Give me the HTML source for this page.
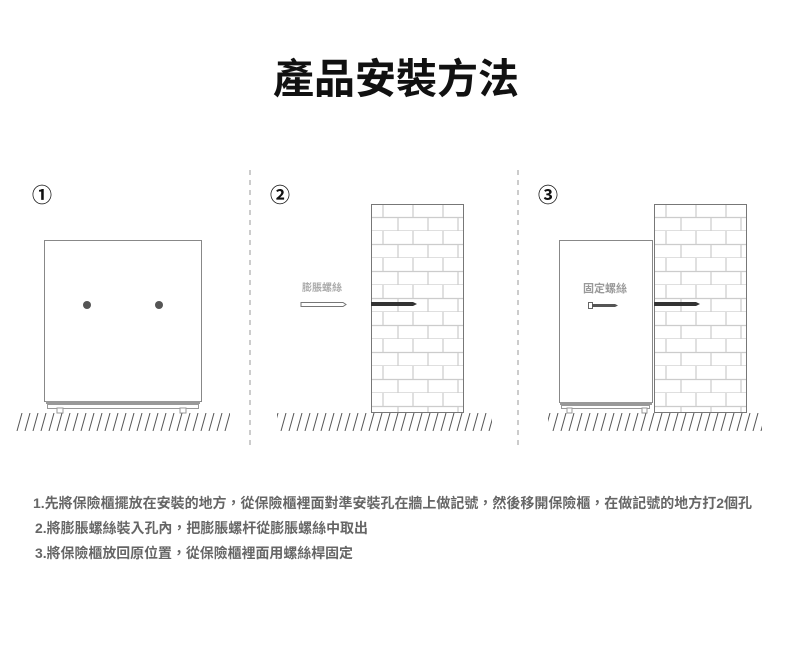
<!DOCTYPE html>
<html><head><meta charset="utf-8"><style>
body{margin:0;background:#fff;}
.t{font-family:"Liberation Sans","Noto Sans CJK TC",sans-serif;}
</style></head><body>
<svg width="790" height="645" viewBox="0 0 790 645" xmlns="http://www.w3.org/2000/svg" class="t">
<defs>
<pattern id="br" x="371" y="204" width="30" height="27" patternUnits="userSpaceOnUse">
<line x1="0" y1="13.5" x2="30" y2="13.5" stroke="#ccc" stroke-width="1.2"/>
<line x1="0" y1="27" x2="30" y2="27" stroke="#ccc" stroke-width="1.2"/>
<line x1="12" y1="0" x2="12" y2="13.5" stroke="#ccc" stroke-width="1.2"/>
<line x1="27" y1="13.5" x2="27" y2="27" stroke="#ccc" stroke-width="1.2"/>
</pattern>
<pattern id="br2" x="654" y="204" width="30" height="27" patternUnits="userSpaceOnUse">
<line x1="0" y1="13.5" x2="30" y2="13.5" stroke="#ccc" stroke-width="1.2"/>
<line x1="0" y1="27" x2="30" y2="27" stroke="#ccc" stroke-width="1.2"/>
<line x1="12" y1="0" x2="12" y2="13.5" stroke="#ccc" stroke-width="1.2"/>
<line x1="27" y1="13.5" x2="27" y2="27" stroke="#ccc" stroke-width="1.2"/>
</pattern>
<pattern id="hatch" x="0" y="413" width="8" height="18" patternUnits="userSpaceOnUse">
<line x1="6" y1="0" x2="1" y2="18" stroke="#555" stroke-width="1"/>
</pattern>
</defs>
<text x="396" y="93" text-anchor="middle" font-size="41" font-weight="bold" fill="#111">產品安裝方法</text>

<line x1="250" y1="170" x2="250" y2="446" stroke="#999" stroke-dasharray="5,5"/>
<line x1="518" y1="170" x2="518" y2="446" stroke="#999" stroke-dasharray="5,5"/>

<g font-size="20" font-weight="bold" fill="#111">
<text x="32" y="202">①</text><text x="270" y="202">②</text><text x="538" y="202">③</text>
</g>

<!-- panel 1 -->
<rect x="44.5" y="240.5" width="157" height="161" fill="#fff" stroke="#888"/>
<rect x="46" y="401" width="154" height="3" fill="#999"/>
<rect x="47.5" y="404.5" width="151" height="4" fill="#fff" stroke="#999"/>
<rect x="57" y="408" width="6" height="5" fill="#fff" stroke="#999"/>
<rect x="180" y="408" width="6" height="5" fill="#fff" stroke="#999"/>
<circle cx="87" cy="305" r="4" fill="#555"/>
<circle cx="159" cy="305" r="4" fill="#555"/>
<rect x="16" y="413" width="214" height="18" fill="url(#hatch)"/>

<!-- panel 2 -->
<rect x="371.5" y="204.5" width="92" height="208" fill="url(#br)" stroke="#777"/>
<text x="322" y="291" text-anchor="middle" font-size="10" font-weight="bold" fill="#aaa">膨脹螺絲</text>
<path d="M301 302.5 H343 L346 304.5 L343 306.5 H301 Z" fill="#fff" stroke="#777"/>
<path d="M371 302 H413 L417 304 L413 306 H371 Z" fill="#333"/>
<rect x="277" y="413" width="215" height="18" fill="url(#hatch)"/>

<!-- panel 3 -->
<rect x="559.5" y="240.5" width="93" height="162" fill="#fff" stroke="#888"/>
<rect x="560" y="402" width="92" height="3" fill="#999"/>
<rect x="561.5" y="405.5" width="88" height="3" fill="#fff" stroke="#999"/>
<rect x="567" y="408" width="5" height="5" fill="#fff" stroke="#999"/>
<rect x="642" y="408" width="5" height="5" fill="#fff" stroke="#999"/>
<rect x="654.5" y="204.5" width="92" height="208" fill="url(#br2)" stroke="#777"/>
<text x="605" y="292" text-anchor="middle" font-size="11" font-weight="bold" fill="#999">固定螺絲</text>
<rect x="588.5" y="302.5" width="4" height="6" fill="#fff" stroke="#666"/>
<path d="M592 304 H615 L618 305.5 L615 307 H592 Z" fill="#555"/>
<path d="M654 302 H696 L700 304 L696 306 H654 Z" fill="#333"/>
<rect x="548" y="413" width="214" height="18" fill="url(#hatch)"/>

<g font-size="14" font-weight="bold" fill="#666">
<text x="33" y="508" textLength="719" lengthAdjust="spacingAndGlyphs">1.先將保險櫃擺放在安裝的地方，從保險櫃裡面對準安裝孔在牆上做記號，然後移開保險櫃，在做記號的地方打2個孔</text>
<text x="35" y="533" textLength="333" lengthAdjust="spacingAndGlyphs">2.將膨脹螺絲裝入孔內，把膨脹螺杆從膨脹螺絲中取出</text>
<text x="35" y="558" textLength="318" lengthAdjust="spacingAndGlyphs">3.將保險櫃放回原位置，從保險櫃裡面用螺絲桿固定</text>
</g>
</svg>
</body></html>
